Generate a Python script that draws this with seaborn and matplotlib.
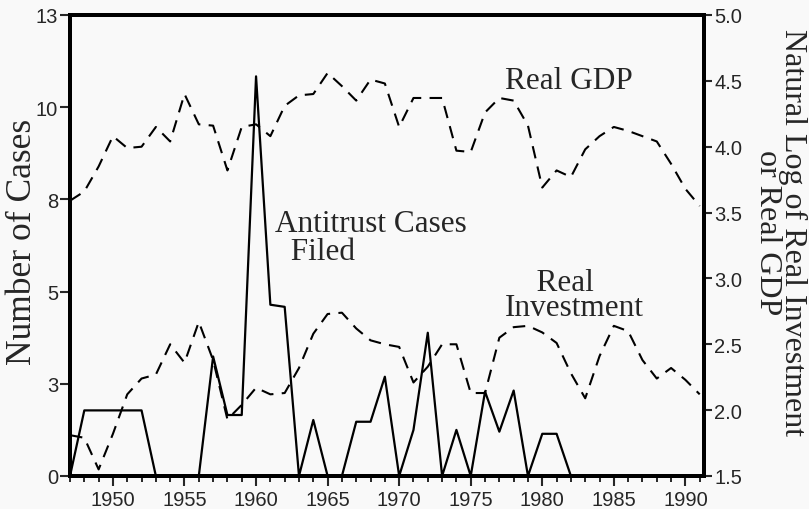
import numpy as np
import pandas as pd
import seaborn as sns
import matplotlib.pyplot as plt
from matplotlib.ticker import MultipleLocator

# Data
years = list(range(1947, 1992))
cases = [0, 1.85, 1.85, 1.85, 1.85, 1.85, 0, 0, 0, 0,
         3.37, 1.72, 1.72, 11.27, 4.83, 4.77, 0, 1.58, 0, 0,
         1.53, 1.53, 2.8, 0, 1.3, 4.04, 0, 1.3, 0, 2.38,
         1.25, 2.41, 0, 1.19, 1.19, 0, 0, 0, 0, 0,
         0, 0, 0, 0, 0]
investment = [1.81, 1.79, 1.55, 1.82, 2.12, 2.24, 2.27, 2.50, 2.36, 2.67,
              2.38, 1.93, 2.04, 2.17, 2.12, 2.13, 2.32, 2.58, 2.73, 2.74,
              2.62, 2.53, 2.50, 2.48, 2.21, 2.33, 2.50, 2.50, 2.13, 2.13,
              2.55, 2.63, 2.64, 2.59, 2.51, 2.28, 2.09, 2.41, 2.64, 2.60,
              2.38, 2.24, 2.32, 2.23, 2.12]
gdp = [3.59, 3.66, 3.85, 4.08, 3.99, 4.00, 4.15, 4.04, 4.40, 4.17,
       4.16, 3.82, 4.15, 4.17, 4.08, 4.31, 4.39, 4.40, 4.56, 4.46,
       4.35, 4.51, 4.48, 4.15, 4.37, 4.37, 4.37, 3.97, 3.96, 4.26,
       4.37, 4.35, 4.16, 3.69, 3.82, 3.77, 3.98, 4.08, 4.15, 4.12,
       4.08, 4.04, 3.87, 3.68, 3.55]

left_ticks = [0, 2.6, 5.2, 7.8, 10.4, 13]
left_labels = ["0", "3", "5", "8", "10", "13"]
right_ticks = [1.5, 2.0, 2.5, 3.0, 3.5, 4.0, 4.5, 5.0]
right_labels = ["1.5", "2.0", "2.5", "3.0", "3.5", "4.0", "4.5", "5.0"]

df = pd.DataFrame({"year": years, "cases": cases,
                   "investment": investment, "gdp": gdp})

sns.set_style("ticks")
plt.rcParams["font.family"] = ["Liberation Sans", "DejaVu Sans"]
serif = ["Liberation Serif", "DejaVu Serif"]
bg = "#f9f9f9"

W, H = 809, 510
fig = plt.figure(figsize=(W / 100, H / 100), dpi=100, facecolor=bg)
ax = fig.add_axes([70 / W, (H - 477) / H, 634 / W, 461 / H])
ax.set_facecolor(bg)
ax2 = ax.twinx()
ax2.patch.set_visible(False)

sns.lineplot(data=df, x="year", y="cases", ax=ax, color="black",
             linewidth=1.6, legend=False)
for col in ["investment", "gdp"]:
    sns.lineplot(data=df, x="year", y=col, ax=ax2, color="black",
                 linewidth=1.5, legend=False)
for line in ax2.lines:
    line.set_dashes((6, 4))

ax.set_xlim(1947, 1991.3)
ax.set_ylim(0, 13)
ax2.set_ylim(1.5, 5.0)

ax.set_yticks(left_ticks)
ax.set_yticklabels(left_labels)
ax2.set_yticks(right_ticks)
ax2.set_yticklabels(right_labels)
ax.xaxis.set_major_locator(MultipleLocator(5))
ax.xaxis.set_minor_locator(MultipleLocator(1))

ax.tick_params(axis="y", direction="out", length=7, width=1.5,
               labelsize=14.5, pad=1.5)
ax.tick_params(axis="x", which="major", direction="out", length=7.5,
               width=1.5, labelsize=14.5, pad=2.5)
ax.tick_params(axis="x", which="minor", direction="out", length=4, width=1.4)
ax2.tick_params(axis="y", direction="out", length=6, width=1.5,
                labelsize=14.5, pad=1.5)

for a in (ax, ax2):
    for s in a.spines.values():
        s.set_visible(True)
        s.set_linewidth(2.8)
        s.set_color("black")

ax.set_xlabel("")
ax.set_ylabel("")
ax2.set_ylabel("")

# axis titles
fig.text(22.5 / W, 1 - 242 / H, "Number of Cases", fontfamily=serif,
         fontsize=25.5, rotation=90, ha="center", va="center")
fig.text(780 / W, 1 - 233 / H, "Natural Log of Real Investment\nor Real GDP",
         fontfamily=serif, fontsize=23, rotation=270, ha="center",
         va="center", multialignment="center", linespacing=0.85)

# series annotations (y is the baseline of the last line, in pixels)
def px_text(x, y, s, ls=1.0):
    fig.text(x / W, 1 - y / H, s, fontfamily=serif, fontsize=22.5,
             ha="left", va="baseline", multialignment="left", linespacing=ls)

px_text(275, 260, "Antitrust Cases\n  Filed", ls=0.95)
px_text(505, 89, "Real GDP")
px_text(505, 316, "    Real\nInvestment", ls=0.81)

fig.savefig("out.png", dpi=100, facecolor=bg)
